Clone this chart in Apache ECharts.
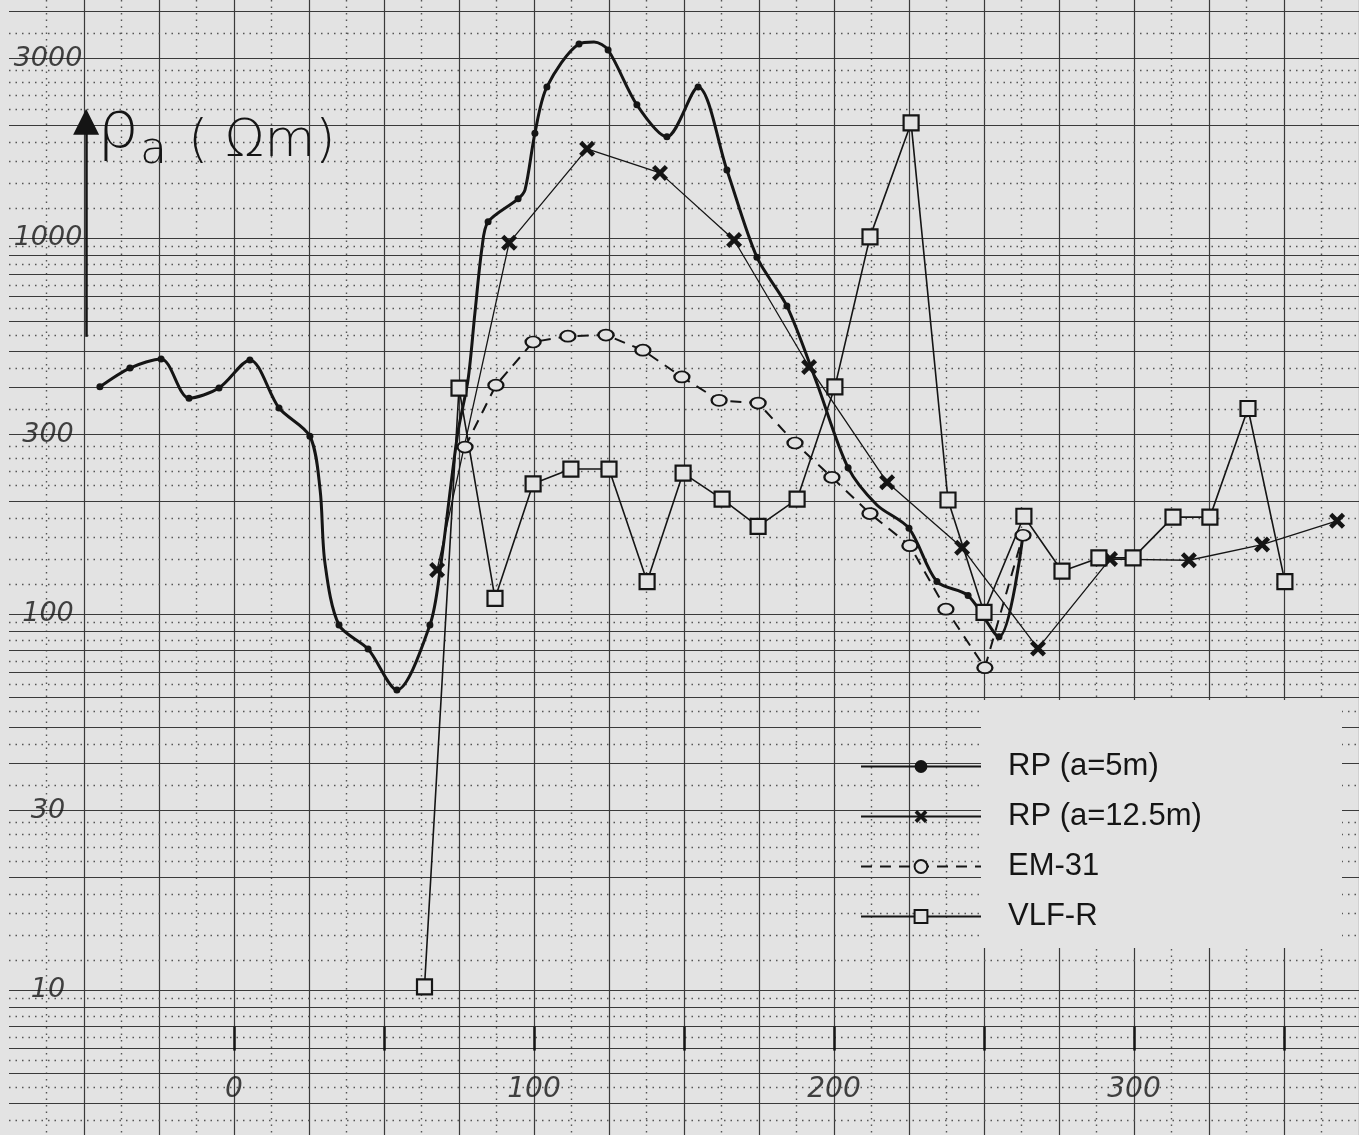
<!DOCTYPE html>
<html>
<head>
<meta charset="utf-8">
<title>Scheinbarer Widerstand</title>
<script src="https://cdn.jsdelivr.net/npm/echarts@6/dist/echarts.min.js"></script>
<style>
  html, body { margin: 0; padding: 0; background: #e3e3e3; }
  #chart { width: 1359px; height: 1135px; }
</style>
</head>
<body>
<div id="chart"></div>
<script>
// 读图得到的数据（横轴: 测线位置 m，纵轴: 视电阻率 Ωm，对数）
var rp5X = [-44.7, -34.7, -24.3, -15, -5, 5.3, 15, 25.3, 28.7, 30.3, 35, 44.7, 54.3, 65.3, 68.7, 74.5, 78, 80.3, 82.7, 84.7, 94.7, 97, 100.3, 104.3, 115, 120, 124.7, 134.3, 144.3, 154.7, 164.3, 174.3, 184.3, 194.3, 204.7, 214.3, 225, 234.3, 244.7, 255, 263];
var rp5Y = [402, 451, 477, 375, 399, 474, 353, 297, 214, 137, 93.5, 80.7, 62.8, 93.5, 131, 300, 419, 631, 946, 1104, 1271, 1343, 1900, 2523, 3282, 3320, 3162, 2260, 1858, 2523, 1517, 889, 659, 411, 245, 195, 169, 122, 112, 87, 162];
var rp5Dot = [1, 1, 1, 1, 1, 1, 1, 1, 0, 0, 1, 1, 1, 1, 0, 0, 0, 0, 0, 1, 1, 0, 1, 1, 1, 0, 1, 1, 1, 1, 1, 1, 1, 0, 1, 0, 1, 1, 1, 1, 0];

var rp12X = [67.7, 91.7, 117.7, 142, 166.7, 191.7, 217.7, 242.7, 268, 292, 318.3, 342.7, 367.7];
var rp12Y = [131, 971, 1726, 1490, 988, 454, 224, 150, 81, 140, 139, 153, 177];

var emX = [77, 87.3, 99.7, 111.3, 124, 136.3, 149.3, 161.7, 174.7, 187, 199.3, 212, 225.3, 237.3, 250.3, 263];
var emY = [278, 406, 529, 548, 552, 503, 427, 370, 364, 285, 231, 185, 152, 103, 72, 162];

var vlfX = [63.5, 75, 87, 99.7, 112.3, 125, 137.7, 149.7, 162.7, 174.7, 187.7, 200.3, 212, 225.7, 238, 250, 263.3, 276, 288.3, 299.7, 313, 325.3, 338, 350.3];
var vlfY = [10.2, 399, 110, 222, 243, 243, 122, 237, 202, 171, 202, 402, 1007, 2023, 201, 101, 182, 130, 141, 141, 181, 181, 352, 122];

var seriesNames = ["RP (a=5m)", "RP (a=12.5m)", "EM-31", "VLF-R"];

// 刻度标签
var yTickVals = [3000, 1000, 300, 100, 30, 10];
var xTickVals = [0, 100, 200, 300];
var xTickMarks = [0, 50, 100, 150, 200, 250, 300, 350];

// 对数坐标纸的格线（每个数量级内）
var paperMajor = [1, 2, 3, 4, 5, 6, 7, 8, 9];
var paperMinor = [1.2, 1.4, 1.6, 1.8, 2.2, 2.4, 2.6, 2.8, 3.5, 4.5, 5.5, 6.5, 7.5, 8.5, 9.5];
var decades = [1, 10, 100, 1000];

(function() {
  var paper = "#e3e3e3";
  var ink = "#151515";
  var yMin = 4.116, yMax = 4295;

  function lines(mult) {
    var out = [];
    decades.forEach(function(d) {
      mult.forEach(function(m) {
        var v = m * d;
        if (v > yMin && v < yMax) out.push({ yAxis: v });
      });
    });
    return out;
  }

  function pairs(xs, ys) {
    return xs.map(function(x, i) { return [x, ys[i]]; });
  }

  var rp5Data = rp5X.map(function(x, i) {
    var item = { value: [x, rp5Y[i]] };
    if (!rp5Dot[i]) item.symbol = "none";
    return item;
  });

  var crossPath = "path://M0,2 L2,0 L5,3 L8,0 L10,2 L7,5 L10,8 L8,10 L5,7 L2,10 L0,8 L3,5 Z";

  var myChart = echarts.init(document.getElementById("chart"));
  var option = {
    animation: false,
    backgroundColor: paper,
    grid: { left: 9, right: 0, top: 0, bottom: 0 },
    xAxis: {
      type: "value",
      min: -75,
      max: 375,
      interval: 25,
      axisLine: { show: false },
      axisTick: { show: false },
      axisLabel: { show: false },
      splitLine: { show: true, showMinLine: false, lineStyle: { color: "#3a3a3a", width: 1.2 } },
      minorTick: { show: false, splitNumber: 2 },
      minorSplitLine: { show: true, lineStyle: { color: "#555", width: 1.4, type: [1.5, 5] } }
    },
    yAxis: {
      type: "log",
      logBase: 10,
      min: yMin,
      max: yMax,
      axisLine: { show: false },
      axisTick: { show: false },
      axisLabel: { show: false },
      splitLine: { show: false }
    },
    legend: {
      orient: "vertical",
      left: 855,
      top: 746,
      itemWidth: 120,
      itemHeight: 16,
      itemGap: 19,
      z: 20,
      data: seriesNames,
      textStyle: {
        fontFamily: "Liberation Sans",
        fontSize: 31,
        color: ink,
        padding: [0, 0, 0, 22]
      }
    },
    graphic: {
      elements: [
        {
          // 图例区的空白纸面
          type: "rect",
          z: 8,
          shape: { x: 981, y: 700, width: 361, height: 248 },
          style: { fill: paper }
        },
        {
          type: "text",
          z: 12,
          left: 97,
          top: 97,
          style: {
            text: "ρ",
            font: "lighter 66px 'DejaVu Sans'",
            fill: ink
          }
        },
        {
          type: "text",
          z: 12,
          left: 140,
          top: 130,
          style: {
            text: "a",
            font: "lighter 44px 'DejaVu Sans'",
            fill: ink
          }
        },
        {
          type: "text",
          z: 12,
          left: 188,
          top: 116,
          style: {
            text: "( Ωm)",
            font: "lighter 52px 'DejaVu Sans'",
            fill: ink
          }
        }
      ]
    },
    series: [
      {
        // 坐标纸横线 + 轴箭头 + 底部刻度
        type: "scatter",
        data: [],
        silent: true,
        z: 1,
        markLine: {
          silent: true,
          symbol: "none",
          label: { show: false },
          lineStyle: { color: "#3a3a3a", width: 1.2, type: "solid" },
          data: lines(paperMajor)
        }
      },
      {
        type: "scatter",
        data: [],
        silent: true,
        z: 1,
        markLine: {
          silent: true,
          symbol: "none",
          label: { show: false },
          lineStyle: { color: "#555", width: 1.4, type: [1.5, 5] },
          data: lines(paperMinor)
        }
      },
      {
        type: "scatter",
        data: [],
        silent: true,
        z: 3,
        markLine: {
          silent: true,
          symbol: "none",
          label: { show: false },
          lineStyle: { color: ink, width: 2.5, type: "solid" },
          data: xTickMarks.map(function(x) {
            return [{ coord: [x, 6.9] }, { coord: [x, 8.0] }];
          }).concat([[
            { coord: [-49.3, 546], symbol: "none" },
            { coord: [-49.3, 2037], symbol: "triangle", symbolSize: 26 }
          ]])
        }
      },
      {
        // 纵轴手写标签
        type: "scatter",
        silent: true,
        z: 12,
        symbolSize: 0,
        data: yTickVals.map(function(v) { return [-62, v]; }),
        label: {
          show: true,
          position: "inside",
          formatter: function(p) { return String(p.value[1]); },
          fontFamily: "DejaVu Sans",
          fontStyle: "italic",
          fontWeight: "lighter",
          fontSize: 27,
          color: ink
        }
      },
      {
        // 横轴手写标签
        type: "scatter",
        silent: true,
        z: 12,
        symbolSize: 0,
        data: xTickVals.map(function(x) { return [x, 5.42]; }),
        label: {
          show: true,
          position: "inside",
          formatter: function(p) { return String(p.value[0]); },
          fontFamily: "DejaVu Sans",
          fontStyle: "italic",
          fontWeight: "lighter",
          fontSize: 28,
          color: ink
        }
      },
      {
        name: seriesNames[0],
        type: "line",
        z: 10,
        smooth: 0.3,
        symbol: "circle",
        symbolSize: 7,
        itemStyle: { color: ink },
        lineStyle: { color: ink, width: 3 },
        data: rp5Data
      },
      {
        name: seriesNames[1],
        type: "line",
        z: 10,
        symbol: crossPath,
        symbolSize: 16,
        itemStyle: { color: ink },
        lineStyle: { color: ink, width: 1.3 },
        data: pairs(rp12X, rp12Y)
      },
      {
        name: seriesNames[2],
        type: "line",
        z: 10,
        symbol: "circle",
        symbolSize: [15, 11],
        itemStyle: { color: paper, borderColor: ink, borderWidth: 2 },
        lineStyle: { color: ink, width: 2, type: [11, 8] },
        data: pairs(emX, emY)
      },
      {
        name: seriesNames[3],
        type: "line",
        z: 10,
        symbol: "rect",
        symbolSize: 15,
        itemStyle: { color: paper, borderColor: ink, borderWidth: 2.2 },
        lineStyle: { color: ink, width: 1.6 },
        data: pairs(vlfX, vlfY)
      }
    ]
  };
  myChart.setOption(option);
  window.addEventListener("resize", function() {
    myChart.resize();
  });
})();
</script>
</body>
</html>
